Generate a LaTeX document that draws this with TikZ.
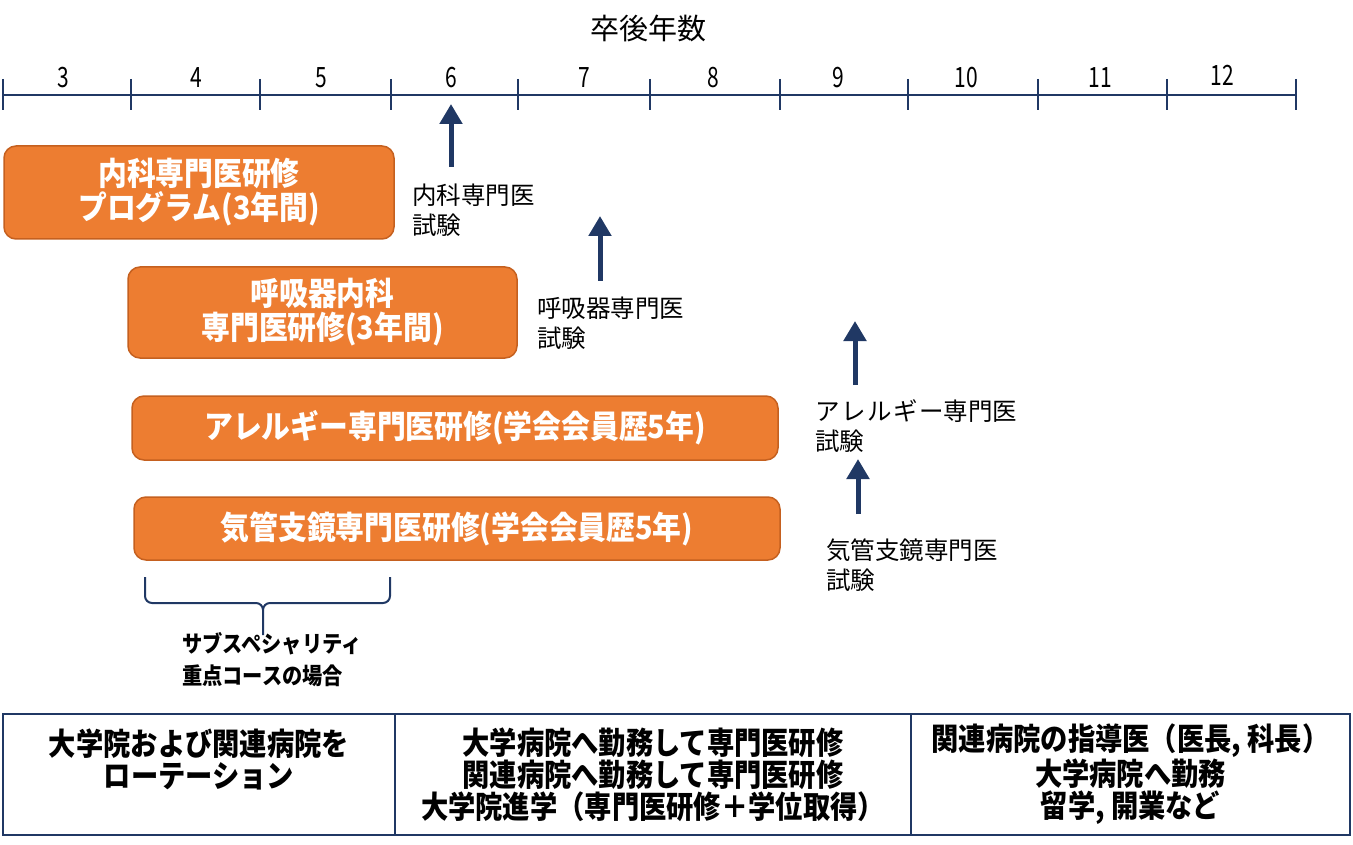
\documentclass[tikz,border=0pt]{standalone}
\usepackage{fontspec}
\setmainfont{Noto Sans CJK JP}
\newfontfamily\jpc[FakeStretch=0.9]{Noto Sans CJK JP}
\newfontfamily\jpb[FakeStretch=0.88]{Noto Sans CJK JP}
\newfontfamily\jpn{Noto Sans CJK JP}
\newfontfamily\jpnum[FakeStretch=0.75]{Noto Sans CJK JP}
\usetikzlibrary{arrows.meta}
\definecolor{orfill}{HTML}{ED7D31}
\definecolor{ordraw}{HTML}{C5601F}
\definecolor{navy}{HTML}{203864}
\tikzset{
  prog/.style={draw=ordraw, fill=orfill, line width=1.5pt, rounded corners=12pt,
    text=white, align=center, inner sep=0pt,
    font=\jpc\bfseries\fontsize{32}{34}\selectfont},
  exam/.style={align=left, anchor=west, inner sep=0pt,
    font=\jpn\fontsize{24.5}{30}\selectfont},
  upar/.style={draw=navy, line width=5pt, -{Triangle[width=22pt,length=20pt]}},
  cell/.style={draw=navy, line width=2pt, align=center, inner sep=0pt,
    minimum height=121pt, font=\jpb\bfseries\fontsize{31}{32}\selectfont},
  yr/.style={inner sep=0pt, font=\jpnum\fontsize{28}{28}\selectfont},
  tick/.style={draw=navy, line width=2pt},
}
\begin{document}
\begin{tikzpicture}[x=1pt,y=-1pt]
\useasboundingbox (0,0) rectangle (1353,845);

% title
\node[inner sep=0pt, font=\jpn\fontsize{29}{29}\selectfont] (title) at (648,28) {卒後年数};

% axis
\draw[navy, line width=2.5pt] (3,95) -- (1296,95);
\foreach \x in {3,131,260,391,518,650,780,908,1038,1167,1296}
  \draw[tick] (\x,79) -- (\x,110);
\foreach \x/\n in {63/3,196/4,321/5,451/6,584/7,713/8,838/9,966/10,1100/11}
  \node[yr] (y\n) at (\x,78) {\n};
\node[yr] (y12) at (1222,75) {12};

% programs
\node[prog, minimum width=390pt, minimum height=93pt] (p1) at (199,192.5)
  {内科専門医研修\\プログラム(3年間)};
\node[prog, minimum width=389pt, minimum height=91pt] (p2) at (322.5,312.5)
  {呼吸器内科\\専門医研修(3年間)};
\node[prog, minimum width=646pt, minimum height=64pt] (p3) at (455,428)
  {アレルギー専門医研修(学会会員歴5年)};
\node[prog, minimum width=646pt, minimum height=63pt] (p4) at (457,528.5)
  {気管支鏡専門医研修(学会会員歴5年)};

% exam labels
\node[exam] (e1) at (412,210) {内科専門医\\試験};
\node[exam] (e2) at (537,323) {呼吸器専門医\\試験};
\node[exam] (e3) at (815,426) {ア\hspace{1.5pt}レ\hspace{1.5pt}ル\hspace{1.5pt}ギ\hspace{1.5pt}ー専門医\\試験};
\node[exam] (e4) at (826,565) {気管支鏡専門医\\試験};

% arrows
\coordinate (t1) at (451,104); \coordinate (b1) at (451,167);
\coordinate (t2) at (600,216); \coordinate (b2) at (600,281);
\coordinate (t3) at (855,321); \coordinate (b3) at (855,385);
\coordinate (t4) at (858,459); \coordinate (b4) at (858,514);
\draw[upar] (b1) -- (t1);
\draw[upar] (b2) -- (t2);
\draw[upar] (b3) -- (t3);
\draw[upar] (b4) -- (t4);

% brace
\coordinate (bl) at (145,577);
\coordinate (br) at (390,577);
\coordinate (bt) at (263,635);
\draw[navy, line width=2pt]
  (bl) -- (145,596) to[out=-90,in=180] (152,603) -- (256,603)
  to[out=0,in=90] (263,610) -- (bt);
\draw[navy, line width=2pt]
  (263,610) to[out=90,in=180] (270,603) -- (383,603)
  to[out=0,in=-90] (390,596) -- (br);
\node[align=left, anchor=west, inner sep=0pt, font=\jpb\bfseries\fontsize{23}{32}\selectfont]
  (sub) at (182,660) {サブスペシャリティ\\重点コースの場合};

% bottom table
\node[cell, minimum width=392pt] (c1) at (199,774.5)
  {大学院および関連病院を\\ローテーション\\\mbox{}};
\node[cell, minimum width=516pt] (c2) at (653,774.5)
  {大学病院へ勤務して専門医研修\\関連病院へ勤務して専門医研修\\大学院進学（専門医研修＋学位取得）};
\node[cell, minimum width=439pt] (c3) at (1130.5,774.5)
  {関連病院の指導医（医長, 科長）\\大学病院へ勤務\\留学, 開業など};
\end{tikzpicture}
\end{document}
